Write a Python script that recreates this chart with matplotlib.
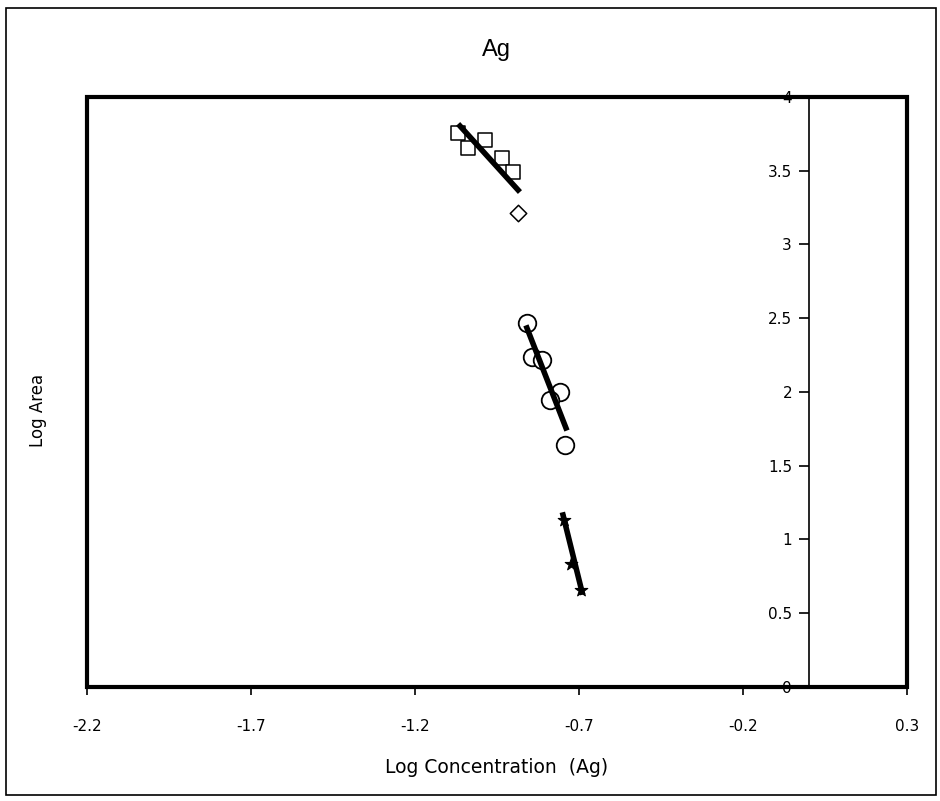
import matplotlib
matplotlib.use("Agg")
import matplotlib.pyplot as plt
from matplotlib.patches import Rectangle

plt.rcParams['font.family'] = ['DejaVu Sans']

# square series (top cluster)
sq_x = [-1.069, -1.038, -0.987, -0.935, -0.901]
sq_y = [3.756, 3.654, 3.708, 3.586, 3.492]
# diamond outlier
dm_x = [-0.886]
dm_y = [3.214]
# circles (middle cluster)
ci_x = [-0.859, -0.843, -0.813, -0.758, -0.788, -0.743]
ci_y = [2.468, 2.237, 2.217, 2.000, 1.946, 1.641]
# stars (bottom cluster)
st_x = [-0.746, -0.724, -0.694]
st_y = [1.132, 0.834, 0.658]

# trend lines (start, end)
fit_top_x = [-1.063, -0.886]
fit_top_y = [3.803, 3.369]
fit_mid_x = [-0.859, -0.740]
fit_mid_y = [2.434, 1.756]
fit_bot_x = [-0.749, -0.691]
fit_bot_y = [1.166, 0.644]

xticks = [-2.2, -1.7, -1.2, -0.7, -0.2, 0.3]
yticks = [0, 0.5, 1, 1.5, 2, 2.5, 3, 3.5, 4]

fig = plt.figure(figsize=(9.4, 8.01), dpi=100)
ax = fig.add_axes([0.0926, 0.1423, 0.8724, 0.7367])

ax.plot(fit_top_x, fit_top_y, color='black', lw=4, zorder=3)
ax.plot(fit_mid_x, fit_mid_y, color='black', lw=4, zorder=3)
ax.plot(fit_bot_x, fit_bot_y, color='black', lw=4, zorder=3)

ax.scatter(sq_x, sq_y, marker='s', s=90, facecolors='white', edgecolors='black',
           linewidths=1.1, zorder=2)
ax.scatter(dm_x, dm_y, marker='D', s=70, facecolors='white', edgecolors='black',
           linewidths=1.1, zorder=2)
ax.scatter(ci_x, ci_y, marker='o', s=160, facecolors='white', edgecolors='black',
           linewidths=1.3, zorder=2)
ax.scatter(st_x, st_y, marker='*', s=90, facecolors='black', edgecolors='black',
           linewidths=0.8, zorder=4)

ax.set_xlim(-2.2, 0.3)
ax.set_ylim(0, 4)

# y axis crosses at x = 0
ax.spines['left'].set_position(('data', 0))
ax.spines['left'].set_linewidth(1.2)
for s in ['top', 'right', 'bottom']:
    ax.spines[s].set_visible(False)
ax.add_patch(Rectangle((0, 0), 1, 1, transform=ax.transAxes, fill=False,
                       lw=3, edgecolor='black', clip_on=False, zorder=5))

ax.set_xticks(xticks)
ax.set_xticklabels([str(t) for t in xticks])
ax.set_yticks(yticks)
ax.set_yticklabels(['0', '0.5', '1', '1.5', '2', '2.5', '3', '3.5', '4'])
ax.tick_params(axis='x', direction='out', length=6, width=1.2, labelsize=11, pad=17)
ax.tick_params(axis='y', direction='out', length=7, width=1.2, labelsize=11, pad=5)

fig.text(0.528, 0.938, 'Ag', ha='center', va='center', fontsize=17,
         family='Liberation Sans')
fig.text(0.528, 0.042, 'Log Concentration  (Ag)', ha='center', va='center', fontsize=13.5)
fig.text(0.040, 0.488, 'Log Area', ha='center', va='center', rotation=90, fontsize=12)

# outer border of the chart
fig.add_artist(Rectangle((0.006, 0.008), 0.990, 0.982, transform=fig.transFigure,
                         fill=False, lw=1.2, edgecolor='black'))

fig.savefig('out.png', dpi=100, facecolor='white')
